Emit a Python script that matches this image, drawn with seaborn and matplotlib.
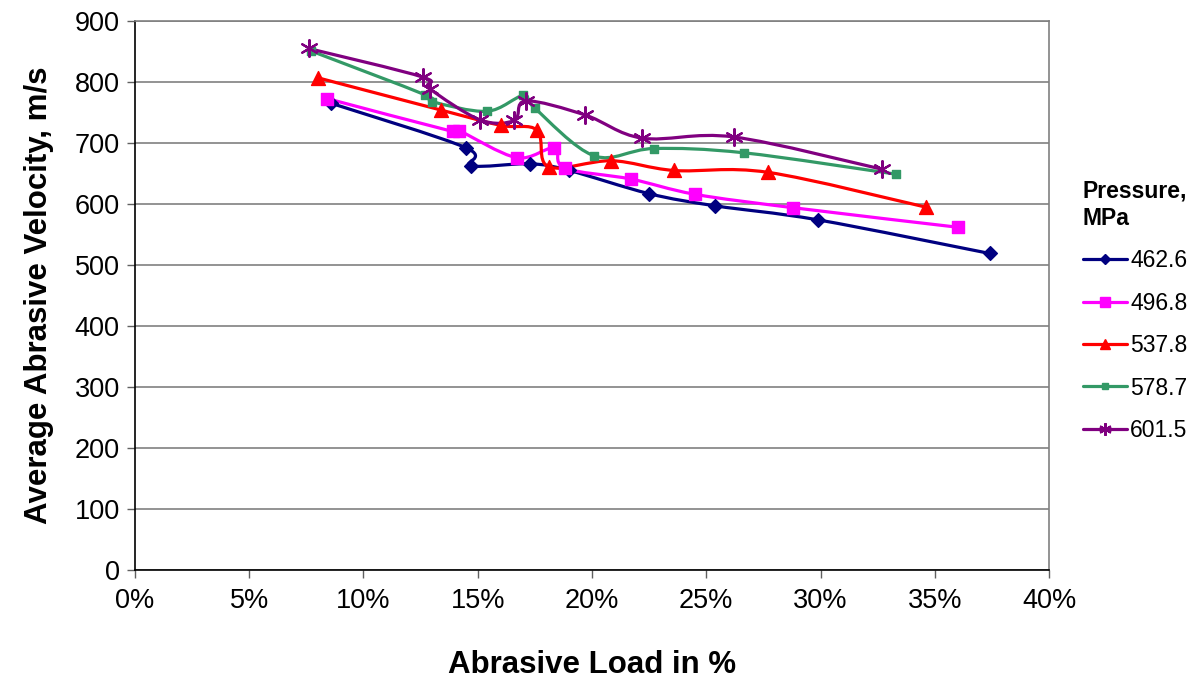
import numpy as np
import matplotlib
matplotlib.use("Agg")
import matplotlib.pyplot as plt
import seaborn as sns
from matplotlib.path import Path
from matplotlib.patches import PathPatch
from matplotlib.lines import Line2D
from matplotlib.ticker import PercentFormatter, MultipleLocator

# Data (abrasive load in %, velocity in m/s)
load_462 = [8.6, 14.5, 14.7, 17.3, 19.0, 22.5, 25.4, 29.9, 37.4]
vel_462 = [765, 692, 663, 666, 655, 617, 597, 574, 519]

load_497 = [8.4, 13.9, 14.2, 16.7, 18.35, 18.8, 21.7, 24.5, 28.8, 36.0]
vel_497 = [773, 719, 720, 676, 692, 659, 641, 616, 594, 562]

load_538 = [8.0, 13.4, 16.0, 17.6, 18.1, 20.85, 23.6, 27.7, 34.6]
vel_538 = [807, 754, 729, 721, 661, 671, 655, 652, 595]

load_579 = [7.7, 12.7, 13.0, 15.4, 17.0, 17.5, 20.1, 22.7, 26.65, 33.3]
vel_579 = [851, 779, 768, 752, 778, 757, 679, 691, 684, 649]

load_602 = [7.6, 12.6, 12.9, 15.1, 16.6, 17.1, 19.7, 22.2, 26.2, 32.7]
vel_602 = [855, 808, 789, 738, 737, 769, 746, 708, 710, 657]

pressures = ["462.6", "496.8", "537.8", "578.7", "601.5"]
colors = ["#000080", "#FF00FF", "#FF0000", "#339966", "#800080"]

sns.set_theme(style="white")
plt.rcParams.update({
    "font.family": ["Liberation Sans", "DejaVu Sans"],
    "text.color": "black",
    "axes.labelcolor": "black",
    "xtick.labelcolor": "black",
    "ytick.labelcolor": "black",
})

fig = plt.figure(figsize=(12.03, 6.79), dpi=100)
ax = fig.add_axes([0.1122, 0.1605, 0.7598, 0.8085])


def smooth_path(xs, ys):
    # Excel-style smoothed line: cubic Bezier through the points
    pts = np.column_stack([xs, ys]).astype(float)
    n = len(pts)
    verts = [pts[0]]
    codes = [Path.MOVETO]
    for i in range(n - 1):
        p0 = pts[i - 1] if i > 0 else pts[i]
        p1, p2 = pts[i], pts[i + 1]
        p3 = pts[i + 2] if i + 2 < n else pts[i + 1]
        verts += [p1 + (p2 - p0) / 6, p2 - (p3 - p1) / 6, p2]
        codes += [Path.CURVE4] * 3
    return Path(verts, codes)


series = [
    (load_462, vel_462, "D", 7, 1.0),
    (load_497, vel_497, "s", 9, 1.0),
    (load_538, vel_538, "^", 10, 1.0),
    (load_579, vel_579, "s", 5.5, 1.0),
    (load_602, vel_602, (6, 2, 0), 12, 1.6),
]

handles = []
for (xs, ys, mk, ms, mew), col, lab in zip(series, colors, pressures):
    ax.add_patch(PathPatch(smooth_path(xs, ys), facecolor="none",
                           edgecolor=col, lw=2.3, zorder=2,
                           capstyle="round", joinstyle="round"))
    sns.scatterplot(x=xs, y=ys, marker=mk, s=ms ** 2, color=col,
                    edgecolor=col, linewidth=mew, ax=ax, zorder=3,
                    legend=False)
    handles.append(Line2D([0], [0], color=col, lw=2.3, marker=mk,
                          markersize=ms * 0.75, markeredgewidth=mew,
                          markerfacecolor=col, markeredgecolor=col))

ax.set_xlim(0, 40)
ax.set_ylim(0, 900)
ax.xaxis.set_major_locator(MultipleLocator(5))
ax.yaxis.set_major_locator(MultipleLocator(100))
ax.xaxis.set_major_formatter(PercentFormatter(100, decimals=0))

ax.grid(axis="y", color="#808080", lw=1.2)
ax.set_axisbelow(True)
for s in ["left", "bottom"]:
    ax.spines[s].set_color("black")
    ax.spines[s].set_linewidth(1.2)
for s in ["top", "right"]:
    ax.spines[s].set_color("#808080")
    ax.spines[s].set_linewidth(1.2)

ax.tick_params(axis="both", which="major", labelsize=19.5, direction="out",
               length=6, width=1.0, color="#606060", left=True, bottom=True)
ax.tick_params(axis="x", pad=7)
ax.tick_params(axis="y", pad=5)

ax.set_xlabel("Abrasive Load in %", fontsize=22.5, fontweight="bold", labelpad=26)
ax.set_ylabel("Average Abrasive Velocity, m/s", fontsize=22.5, fontweight="bold", labelpad=15)

leg = fig.legend(handles=handles, labels=pressures, title="Pressure,\nMPa",
                 loc="upper left", bbox_to_anchor=(1083 / 1203, 1 - 180 / 679),
                 frameon=False, fontsize=16.5, title_fontsize=16.5,
                 handlelength=1.9, handletextpad=0.15, labelspacing=0.85,
                 borderpad=0, borderaxespad=0)
leg.get_title().set_fontweight("bold")

fig.savefig("out.png", dpi=100)
